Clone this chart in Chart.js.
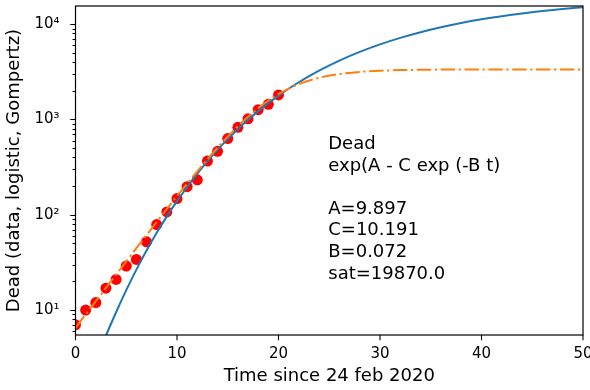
<!DOCTYPE html>
<html>
<head>
<meta charset="utf-8">
<script src="https://cdn.jsdelivr.net/npm/chart.js@4"></script>
<style>
  body { margin: 0; background: #fff; }
</style>
</head>
<body>
<canvas id="chart" width="590" height="390"></canvas>
<script>
// data: deaths since 24 feb 2020
const days = [0, 1, 2, 3, 4, 5, 6, 7, 8, 9, 10, 11, 12, 13, 14, 15, 16, 17, 18, 19, 20]
const dead = [7, 10, 12, 17, 21, 29, 34, 52, 79, 107, 148, 197, 233, 366, 463, 631, 827, 1016, 1266, 1441, 1809]

// Gompertz fit (blue, solid)
const gompDays = [2, 3, 4, 5, 6, 7, 8, 9, 10, 12, 14, 16, 18, 20, 22, 24, 26, 28, 30, 32, 34, 36, 38, 40, 42, 44, 46, 48, 50]
const gompDead = [2.9, 5.4, 9.5, 16.2, 26.6, 42.1, 64.7, 96.2, 139, 271, 482, 794, 1223, 1778, 2458, 3253, 4148, 5117, 6139, 7181, 8234, 9268, 10273, 11226, 12117, 12948, 13707, 14409, 15050]

// logistic fit (orange, dash-dot)
const logiDays = [0, 1, 2, 3, 4, 5, 6, 7, 8, 9, 10, 11, 12, 13, 14, 15, 16, 17, 18, 19, 20, 22, 24, 26, 28, 30, 32, 35, 40, 45, 50]
const logiDead = [6.5, 9.0, 12.4, 17.1, 23.6, 32.4, 44.6, 61.2, 84.0, 115, 157, 212, 286, 383, 507, 661, 849, 1069, 1316, 1580, 1850, 2351, 2739, 2999, 3156, 3245, 3294, 3329, 3346, 3349, 3350]

const xTicks = [0, 10, 20, 30, 40, 50]
const yTicks = [6, 7, 8, 9, 10, 20, 30, 40, 50, 60, 70, 80, 90, 100, 200, 300, 400, 500, 600, 700, 800, 900,
    1000, 2000, 3000, 4000, 5000, 6000, 7000, 8000, 9000, 10000]

const note = ['Dead', 'exp(A - C exp (-B t)', '', 'A=9.897', 'C=10.191', 'B=0.072', 'sat=19870.0']

const sup = { '0': '⁰', '1': '¹', '2': '²', '3': '³', '4': '⁴', '5': '⁵' }
const pts = (xs, ys) => xs.map((x, i) => ({ x: x, y: ys[i] }))
const isDecade = v => Math.abs(Math.log10(v) - Math.round(Math.log10(v))) < 1e-9

const font = '"DejaVu Sans", sans-serif'

// frame, tick marks and the text box
const frame = {
    id: 'frame',
    afterDatasetsDraw(chart) {
        const { ctx, chartArea: a, scales } = chart
        ctx.save()
        ctx.strokeStyle = '#000'
        ctx.lineWidth = 1.2
        ctx.strokeRect(a.left, a.top, a.right - a.left, a.bottom - a.top)
        ctx.lineWidth = 1.1
        ctx.beginPath()
        xTicks.forEach(v => {
            const x = scales.x.getPixelForValue(v)
            ctx.moveTo(x, a.bottom)
            ctx.lineTo(x, a.bottom + 5.25)
        })
        yTicks.forEach(v => {
            const y = Math.round(scales.y.getPixelForValue(v)) + 0.5
            ctx.moveTo(a.left, y)
            ctx.lineTo(a.left - (isDecade(v) ? 5.25 : 3), y)
        })
        ctx.stroke()

        ctx.fillStyle = '#000'
        ctx.font = '18px ' + font
        ctx.textBaseline = 'alphabetic'
        const tx = scales.x.getPixelForValue(25)
        note.forEach((line, i) => ctx.fillText(line, tx - 1, 149 + i * 21.6))
        ctx.restore()
    }
}

new Chart(document.getElementById('chart'), {
    type: 'scatter',
    data: {
        datasets: [{
            data: pts(logiDays, logiDead),
            showLine: true,
            borderColor: '#ff7f0e',
            borderWidth: 2,
            borderDash: [14.4, 3.6, 2.25, 3.6],
            pointRadius: 0,
            cubicInterpolationMode: 'monotone',
            order: 1
        }, {
            data: pts(gompDays, gompDead),
            showLine: true,
            borderColor: '#1f77b4',
            borderWidth: 2,
            pointRadius: 0,
            cubicInterpolationMode: 'monotone',
            order: 2
        }, {
            data: pts(days, dead),
            backgroundColor: '#ff0000',
            borderWidth: 0,
            pointRadius: 5.5,
            order: 3
        }]
    },
    options: {
        responsive: false,
        animation: false,
        layout: { padding: { top: 6, right: 7, left: 0, bottom: 0 } },
        plugins: {
            legend: { display: false },
            tooltip: { enabled: false }
        },
        scales: {
            x: {
                type: 'linear',
                min: 0,
                max: 50,
                afterBuildTicks: s => { s.ticks = xTicks.map(v => ({ value: v })) },
                afterFit: s => { s.height = 55; s.paddingLeft = 0; s.paddingRight = 0 },
                grid: { drawOnChartArea: false, tickLength: 5, tickColor: 'rgba(0,0,0,0)' },
                border: { display: false },
                ticks: { color: '#000', padding: 5, font: { family: font, size: 15 } },
                title: {
                    display: true,
                    text: 'Time since 24 feb 2020',
                    color: '#000',
                    font: { family: font, size: 18 },
                    padding: { top: 0, bottom: 2.5 }
                }
            },
            y: {
                type: 'logarithmic',
                min: 5.48,
                max: 15500,
                afterBuildTicks: s => { s.ticks = yTicks.map(v => ({ value: v })) },
                afterFit: s => { s.width = 75.5; s.paddingTop = 0; s.paddingBottom = 0 },
                grid: { drawOnChartArea: false, tickLength: 5, tickColor: 'rgba(0,0,0,0)' },
                border: { display: false },
                ticks: {
                    color: '#000',
                    padding: 11,
                    autoSkip: false,
                    font: { family: font, size: 15 },
                    callback: v => isDecade(v) ? '10' + sup[String(Math.round(Math.log10(v)))] : ''
                },
                title: {
                    display: true,
                    text: 'Dead (data, logistic, Gompertz)',
                    color: '#000',
                    font: { family: font, size: 18 },
                    padding: { top: 4, bottom: 0 }
                }
            }
        }
    },
    plugins: [frame]
})
</script>
</body>
</html>
